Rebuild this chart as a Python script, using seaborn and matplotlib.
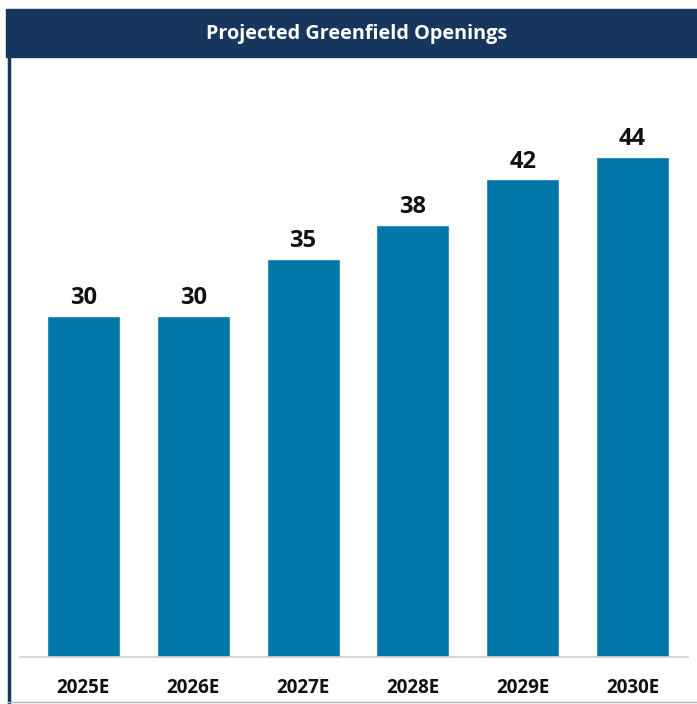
import pandas as pd
import matplotlib.pyplot as plt
import seaborn as sns
from matplotlib.patches import Rectangle
from matplotlib.lines import Line2D

years = ["2025E", "2026E", "2027E", "2028E", "2029E", "2030E"]
openings = [30, 30, 35, 38, 42, 44]

df = pd.DataFrame({"Year": years, "Openings": openings})

sns.set_style("white")
plt.rcParams['font.family'] = ['Open Sans', 'DejaVu Sans']

W, H = 697, 704
fig = plt.figure(figsize=(W / 100, H / 100), dpi=100)

# axes placed in pixel terms
left, right, top, bottom = 20, 688, 60, 657
ax = fig.add_axes([left / W, 1 - bottom / H, (right - left) / W, (bottom - top) / H])

sns.barplot(data=df, x="Year", y="Openings", color="#0077A8", width=0.664,
            saturation=1, ax=ax)

ax.set_xlim(-0.577, 5.505)
ax.set_ylim(0, 52.5)
for c in ax.containers:
    ax.bar_label(c, fmt="%d", padding=4, fontsize=17, fontweight="bold", color="#111111")

ax.set_xlabel("")
ax.set_ylabel("")
ax.set_yticks([])
ax.tick_params(axis="x", length=0, pad=15, labelsize=13.5, labelcolor="#111111")
for lbl in ax.get_xticklabels():
    lbl.set_fontweight("bold")
sns.despine(ax=ax, left=True, top=True, right=True)
ax.spines["bottom"].set_color("#d0d0d0")
ax.spines["bottom"].set_linewidth(1.2)

# header band and panel border
fig.patches.append(Rectangle((6 / W, 1 - 57 / H), (W - 6) / W, 48 / H,
                             transform=fig.transFigure, color="#17365D", zorder=0))
fig.text(357 / W, 1 - 34 / H, "Projected Greenfield Openings", color="white",
         fontsize=14.3, fontweight="bold", ha="center", va="center")
fig.lines.append(Line2D([8.5 / W, 8.5 / W], [1 - 57 / H, 1 - 703 / H],
                        transform=fig.transFigure, color="#17365D", linewidth=2.5))
fig.lines.append(Line2D([8 / W, 1], [1 - 702 / H, 1 - 702 / H],
                        transform=fig.transFigure, color="#b0b8c0", linewidth=1))

fig.savefig("out.png", dpi=100)
